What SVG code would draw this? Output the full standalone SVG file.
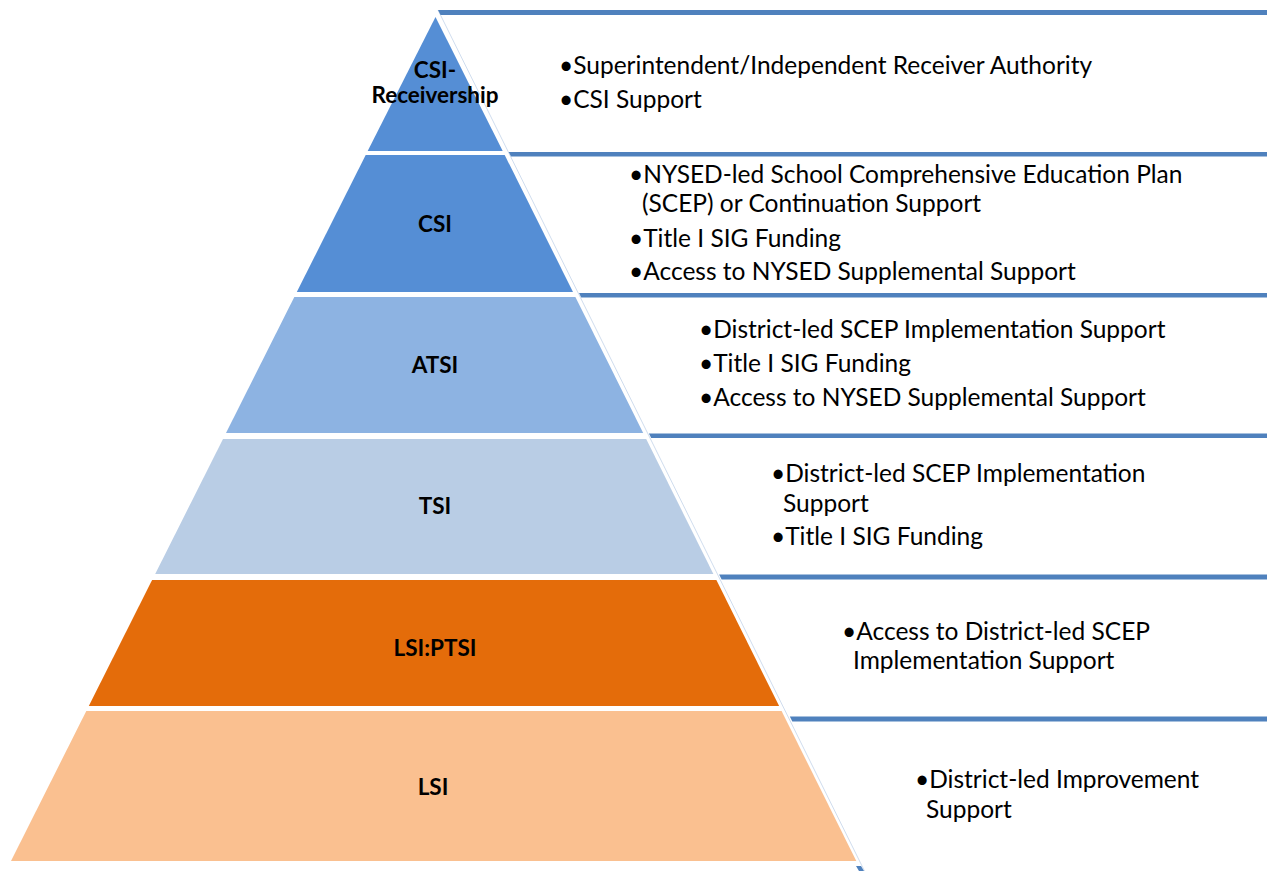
<svg xmlns="http://www.w3.org/2000/svg" width="1267" height="871" viewBox="0 0 1267 871">
<style>
.lbl{font-family:Lato,"Liberation Sans",sans-serif;font-weight:bold;font-size:22.5px;fill:#000;text-anchor:middle}
.txt{font-family:Lato,"Liberation Sans",sans-serif;font-size:24.5px;fill:#000}
.bar{fill:#4F81BD}
.edge{stroke:#D0DDEE;stroke-width:1;fill:none}
</style>
<rect width="1267" height="871" fill="#fff"/>
<line class="edge" x1="438" y1="10" x2="864.5" y2="871"/>
<g id="tier1">
<polygon points="435.5,17 502.7,151 367.7,151" fill="#558ED5"/>
<text class="lbl" x="435" y="78">CSI-</text>
<text class="lbl" x="435" y="103">Receivership</text>
</g>
<g id="tier2">
<polygon points="365.7,155 504.7,155 573,292 296.8,292" fill="#558ED5"/>
<text class="lbl" x="435" y="232">CSI</text>
</g>
<g id="tier3">
<polygon points="294.3,297 575.4,297 643.2,433 226,433" fill="#8DB3E2"/>
<text class="lbl" x="435" y="373">ATSI</text>
</g>
<g id="tier4">
<polygon points="223,439 646.2,439 713.4,574 155.2,574" fill="#B9CDE5"/>
<text class="lbl" x="435" y="514">TSI</text>
</g>
<g id="tier5">
<polygon points="152.1,580 716.4,580 779.1,706 88.8,706" fill="#E46C0A"/>
<text class="lbl" x="435" y="656">LSI:PTSI</text>
</g>
<g id="tier6">
<polygon points="86.3,711 781.6,711 856.3,861 11,861" fill="#FAC090"/>
<text class="lbl" x="433" y="795">LSI</text>
</g>
<g id="box1">
<polygon class="bar" points="438,10 1267,10 1267,15 440.5,15"/>
<text class="txt" x="559" y="74">•Superintendent/Independent Receiver Authority</text>
<text class="txt" x="559" y="108">•CSI Support</text>
</g>
<g id="box2">
<polygon class="bar" points="508.7,152 1267,152 1267,156.5 511,156.5"/>
<text class="txt" x="629" y="183">•NYSED-led School Comprehensive Education Plan</text>
<text class="txt" x="642" y="212">(SCEP) or Continuation Support</text>
<text class="txt" x="629" y="247">•Title I SIG Funding</text>
<text class="txt" x="629" y="280">•Access to NYSED Supplemental Support</text>
</g>
<g id="box3">
<polygon class="bar" points="579,293 1267,293 1267,297.5 581.2,297.5"/>
<text class="txt" x="699" y="338">•District-led SCEP Implementation Support</text>
<text class="txt" x="699" y="372">•Title I SIG Funding</text>
<text class="txt" x="699" y="406">•Access to NYSED Supplemental Support</text>
</g>
<g id="box4">
<polygon class="bar" points="648.9,433.5 1267,433.5 1267,438 651.2,438"/>
<text class="txt" x="771" y="482">•District-led SCEP Implementation</text>
<text class="txt" x="783" y="512">Support</text>
<text class="txt" x="771" y="545">•Title I SIG Funding</text>
</g>
<g id="box5">
<polygon class="bar" points="719.1,574.5 1267,574.5 1267,579.5 721.6,579.5"/>
<text class="txt" x="842" y="640">•Access to District-led SCEP</text>
<text class="txt" x="853" y="669">Implementation Support</text>
</g>
<g id="box6">
<polygon class="bar" points="789.8,716.5 1267,716.5 1267,721.5 792.3,721.5"/>
<text class="txt" x="915" y="788">•District-led Improvement</text>
<text class="txt" x="926" y="818">Support</text>
<polygon class="bar" points="856,866 861,866 864,871 859,871"/>
</g>
<g id="connectors"></g>
</svg>
